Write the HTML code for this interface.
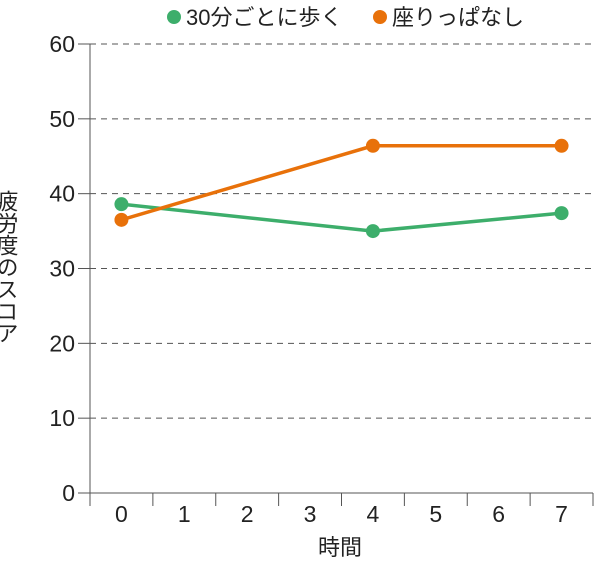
<!DOCTYPE html>
<html><head><meta charset="utf-8"><style>
body{margin:0;background:#fff;}
svg text{font-family:"Liberation Sans","Noto Sans CJK JP",sans-serif;fill:#222;}
</style></head><body>
<svg id="chart" width="600" height="562">
<g id="legend">
 <g><circle cx="174" cy="17" r="7" fill="#3dae6b"/><text x="186" y="25" font-size="22">30分ごとに歩く</text></g>
 <g><circle cx="380" cy="17" r="7" fill="#e8710a"/><text x="392" y="25" font-size="22">座りっぱなし</text></g>
</g>
<g id="grid"></g>
<g id="axes"></g>
<g id="series"></g>
<text x="0" y="0" font-size="22" transform="translate(6,190)" style="writing-mode:vertical-rl;">疲労度のスコア</text>
<text x="340" y="555" font-size="22" text-anchor="middle">時間</text>
</svg>
<script>
const categories=[0,1,2,3,4,5,6,7];
const yTicks=[0,10,20,30,40,50,60];
const walkX=[0,4,7];
const walkValues=[38.6,35.0,37.4];
const sitX=[0,4,7];
const sitValues=[36.5,46.4,46.4];
const NS="http://www.w3.org/2000/svg";
const L=90,R=593,T=44,B=493,yMax=60;
const step=(R-L)/categories.length;
const xs=i=>L+step*(i+0.5);
const ys=v=>B-(v/yMax)*(B-T);
function mk(tag,attrs,parent){const e=document.createElementNS(NS,tag);for(const k in attrs)e.setAttribute(k,attrs[k]);parent.appendChild(e);return e;}
const grid=document.getElementById('grid'),axes=document.getElementById('axes'),ser=document.getElementById('series');
yTicks.forEach(v=>{
 const y=ys(v);
 if(v>0){const g=mk('line',{x1:L,x2:R,y1:y,y2:y,stroke:'#555','stroke-width':1,'stroke-dasharray':'6,5'},grid);
 
 }
 const tk=mk('line',{x1:L-12,x2:L,y1:y,y2:y,stroke:'#555'},axes);
 
 
 const t=mk('text',{x:L-15,y:y+8,'font-size':23,'text-anchor':'end'},axes);t.textContent=v;
 
 
});
const ya=mk('line',{x1:L,x2:L,y1:T,y2:B,stroke:'#555'},axes);


const xa=mk('line',{x1:L,x2:R,y1:B,y2:B,stroke:'#555'},axes);


for(let i=0;i<=categories.length;i++){const x=L+step*i;const tk=mk('line',{x1:x,x2:x,y1:B,y2:B+13,stroke:'#555'},axes);
 
 }
categories.forEach((c,i)=>{const t=mk('text',{x:xs(i),y:B+29,'font-size':23,'text-anchor':'middle'},axes);t.textContent=c;
 
 });
function drawSeries(xArr,vals,color,name){
 const pts=xArr.map((c,i)=>xs(categories.indexOf(c))+','+ys(vals[i])).join(' ');
 const pl=mk('polyline',{points:pts,fill:'none',stroke:color,'stroke-width':3.5},ser);
 
 
 xArr.forEach((c,i)=>{const p=mk('circle',{cx:xs(categories.indexOf(c)),cy:ys(vals[i]),r:7,fill:color},ser);
  
  });
}
drawSeries(walkX,walkValues,'#3dae6b','walk');
drawSeries(sitX,sitValues,'#e8710a','sit');
</script>
</body></html>
